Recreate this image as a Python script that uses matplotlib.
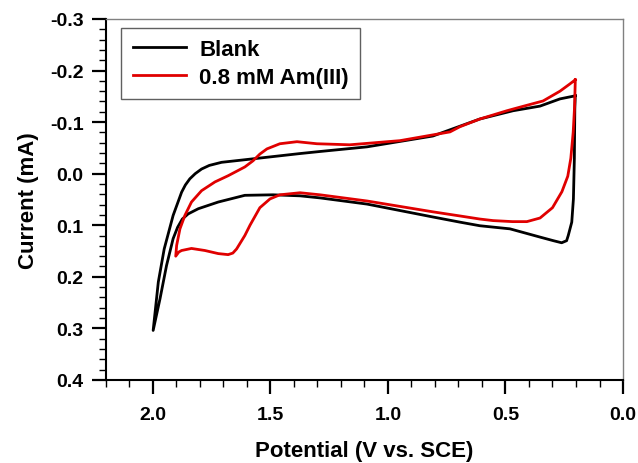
import matplotlib
matplotlib.use("Agg")
import matplotlib.pyplot as plt
from matplotlib.ticker import MultipleLocator, FormatStrFormatter

plt.rcParams['font.family'] = ['Liberation Sans', 'DejaVu Sans']
plt.rcParams['font.weight'] = 'bold'

# Blank: closed loop starting at the 0.2 V vertex, upper branch first
blank_e = [0.203, 0.268, 0.353, 0.468, 0.609, 0.694, 0.809, 1.089, 1.289, 1.374,
           1.609, 1.708, 1.760, 1.793, 1.820, 1.843, 1.862, 1.878, 1.914, 1.952, 1.977, 1.999,
           1.970, 1.942, 1.914, 1.895, 1.875, 1.850, 1.807, 1.722, 1.609, 1.489, 1.374,
           1.289, 1.089, 0.809, 0.694, 0.609, 0.481, 0.353, 0.296, 0.261, 0.240, 0.233,
           0.218, 0.211, 0.207, 0.205, 0.203]
blank_i = [-0.151, -0.145, -0.131, -0.122, -0.106, -0.092, -0.073, -0.052, -0.043, -0.039,
           -0.027, -0.022, -0.016, -0.009, 0.000, 0.010, 0.022, 0.036, 0.081, 0.146, 0.210, 0.304,
           0.243, 0.178, 0.126, 0.104, 0.088, 0.078, 0.068, 0.055, 0.042, 0.041, 0.043,
           0.047, 0.059, 0.084, 0.094, 0.101, 0.107, 0.123, 0.130, 0.134, 0.130, 0.120,
           0.094, 0.049, -0.029, -0.126, -0.151]

# 0.8 mM Am(III)
am_e = [0.203, 0.226, 0.268, 0.340, 0.438, 0.494, 0.609, 0.694, 0.736, 0.949,
        1.162, 1.302, 1.387, 1.460, 1.515, 1.545, 1.574, 1.609, 1.680, 1.736, 1.793,
        1.836, 1.864, 1.885, 1.899, 1.903,
        1.890, 1.878, 1.836, 1.779, 1.722, 1.680, 1.660, 1.644, 1.609, 1.587, 1.545, 1.502,
        1.460, 1.374, 1.289, 1.089, 0.809, 0.694, 0.609, 0.553, 0.470, 0.409, 0.353,
        0.300, 0.260, 0.235, 0.222, 0.212, 0.206, 0.203]
am_i = [-0.182, -0.174, -0.160, -0.141, -0.129, -0.122, -0.106, -0.091, -0.081, -0.064,
        -0.056, -0.058, -0.062, -0.058, -0.048, -0.038, -0.025, -0.013, 0.004, 0.016, 0.033,
        0.055, 0.081, 0.107, 0.139, 0.160,
        0.152, 0.149, 0.145, 0.149, 0.155, 0.157, 0.154, 0.146, 0.120, 0.100, 0.066, 0.049,
        0.041, 0.037, 0.041, 0.053, 0.074, 0.082, 0.088, 0.091, 0.093, 0.093, 0.086,
        0.066, 0.035, 0.005, -0.030, -0.080, -0.130, -0.182]

fig = plt.figure(figsize=(6.38, 4.64), dpi=100)
ax = fig.add_axes([0.166, 0.179, 0.8105, 0.778])

ax.plot(blank_e, blank_i, color='black', lw=2.0, label='Blank', solid_joinstyle='round')
ax.plot(am_e, am_i, color='#e00000', lw=2.0, label='0.8 mM Am(III)', solid_joinstyle='round')

ax.set_xlim(2.2, 0.0)
ax.set_ylim(0.4, -0.3)
ax.xaxis.set_major_locator(MultipleLocator(0.5))
ax.xaxis.set_minor_locator(MultipleLocator(0.1))
ax.yaxis.set_major_locator(MultipleLocator(0.1))
ax.yaxis.set_minor_locator(MultipleLocator(0.02))
ax.xaxis.set_major_formatter(FormatStrFormatter('%.1f'))
ax.yaxis.set_major_formatter(FormatStrFormatter('%.1f'))

ax.tick_params(which='major', direction='out', length=10, width=1.6, labelsize=14, pad=6)
ax.tick_params(axis='x', which='major', pad=9)
ax.tick_params(which='minor', direction='out', length=5, width=1.0)
ax.tick_params(top=False, right=False, which='both')

for s in ['left', 'bottom']:
    ax.spines[s].set_color('black')
    ax.spines[s].set_linewidth(1.5)
for s in ['top', 'right']:
    ax.spines[s].set_color('#808080')
    ax.spines[s].set_linewidth(1.0)

ax.set_xlabel('Potential (V vs. SCE)', fontsize=16, fontweight='bold', labelpad=12)
ax.set_ylabel('Current (mA)', fontsize=16, fontweight='bold', labelpad=8)

leg = ax.legend(loc='upper left', bbox_to_anchor=(0.03, 0.975), fontsize=16,
                fancybox=False, framealpha=1, edgecolor='#606060',
                handlelength=2.4, handletextpad=0.6, borderpad=0.5,
                labelspacing=0.3, borderaxespad=0)
leg.get_frame().set_linewidth(1.0)

fig.savefig('out.png', dpi=100)
